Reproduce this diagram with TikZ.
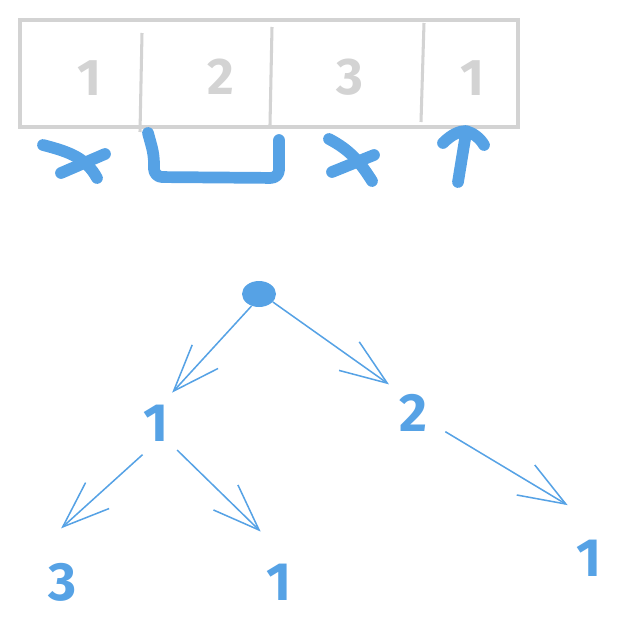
\documentclass[tikz,border=0pt]{standalone}
\usepackage{fontspec}
\setmainfont{Fira Sans}
\usetikzlibrary{arrows.meta,shapes.geometric}
\definecolor{sketchblue}{RGB}{86,162,229}
\definecolor{sketchgray}{RGB}{211,211,211}

\begin{document}
\begin{tikzpicture}[x=0.03cm, y=-0.03cm, semithick]
    \tikzset{cell/.style={text=sketchgray, font=\fontsize{44}{44}\selectfont\bfseries, inner sep=0pt},
      num/.style={circle, text=sketchblue, font=\fontsize{46}{46}\selectfont\bfseries, inner sep=0pt},
      brush/.style={draw=sketchblue, line width=10pt, line cap=round, line join=round},
      edge/.style={draw=sketchblue, line width=1.3pt, -{Straight Barb[length=1.4cm,width=1.05cm]}}};
    \useasboundingbox (0,0) rectangle (617,640);
    % the array
    \draw[sketchgray, line width=2.6pt] (20,20) rectangle (518,127);
    \draw[sketchgray, line width=2.6pt] (142,33) -- (140,132)
      (272,27) -- (270,125)
      (424,23) -- (421,122);
    \node[cell] (c1) at (89,78) {1};
    \node[cell] (c2) at (221,77) {2};
    \node[cell] (c3) at (350,77) {3};
    \node[cell] (c4) at (472,78) {1};
    % marks under the cells
    \draw[brush] (43,145) .. controls (70,152) and (86,158) .. (97,178);
    \draw[brush] (105,154) -- (61,173);
    \draw[brush, rounded corners=7pt] (148,133) -- (154,155) -- (154,177) -- (279,178) -- (279,140);
    \draw[brush] (329,139) .. controls (350,150) and (360,162) .. (372,181);
    \draw[brush] (374,155) -- (332,172);
    \draw[brush] (458,182) -- (466,133);
    \draw[brush] (443,143) .. controls (452,134) and (460,131) .. (466,131) .. controls (473,133) and (480,138) .. (484,145);
    % the tree
    \node[ellipse, fill=sketchblue, minimum width=1.02cm, minimum height=0.78cm, inner sep=0pt] (root) at (259,294) {};
    \node[num, minimum size=2.04cm] (n1) at (156,423) {1};
    \node[num, minimum size=2.22cm] (n2) at (413,413) {2};
    \node[num, minimum size=3.2cm] (n3) at (63,582) {3};
    \node[num, minimum size=3.2cm] (n4) at (279,582) {1};
    \node[num, minimum size=3.4cm] (n5) at (589,558) {1};
    \path[every edge/.style=edge]
      (root.238) edge (n1.62)
      (root.-30) edge (n2.130)
      (n1.247) edge (n3.92)
      (n1.-52) edge (n4.110)
      (n2.-30) edge (n5.112);
\end{tikzpicture}
\end{document}
